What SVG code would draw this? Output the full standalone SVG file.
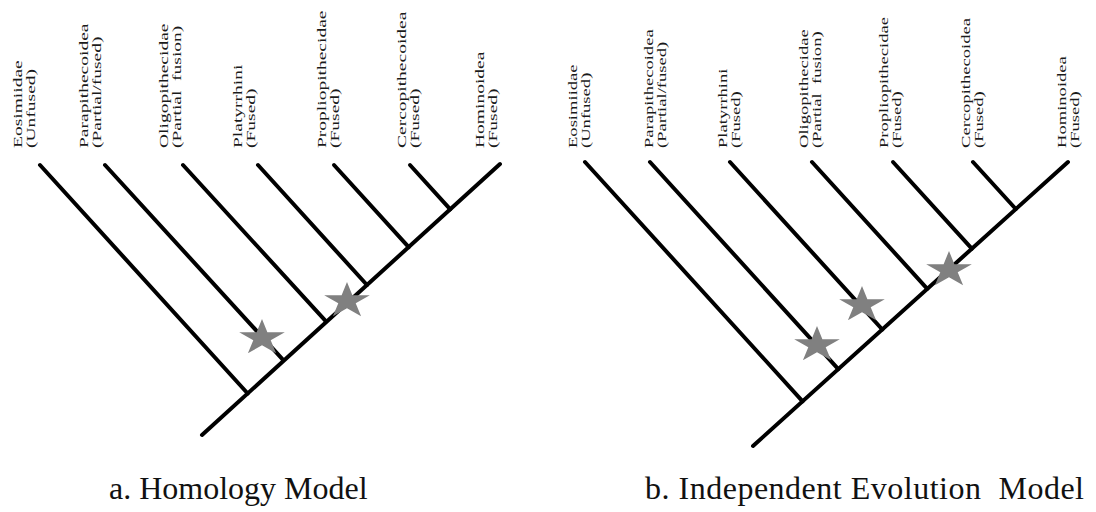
<svg xmlns="http://www.w3.org/2000/svg" xmlns:xlink="http://www.w3.org/1999/xlink" width="1096" height="512" viewBox="0 0 1096 512">
<style>
.br{stroke:#000;stroke-width:4;stroke-linecap:round;fill:none}
.lb{font-family:"Liberation Serif","Times New Roman",serif;font-size:13px;fill:#1a1a1a}
.cap{font-family:"Liberation Serif","Times New Roman",serif;font-size:32px;fill:#111}
.star{fill:#808080}
</style>
<defs>
<path id="star" d="M0,-19 L5.39,-5.87 L22.8,-5.87 L8.71,2.24 L14.1,15.37 L0,7.26 L-14.1,15.37 L-8.71,2.24 L-22.8,-5.87 L-5.39,-5.87 Z"/>
</defs>
<rect width="1096" height="512" fill="#fff"/>

<g id="connectors-a">
<line class="br" x1="202" y1="435" x2="500" y2="164"/>
<line class="br" x1="40" y1="165" x2="247.7" y2="393.5"/>
<line class="br" x1="105" y1="165" x2="283.3" y2="360.1"/>
<line class="br" x1="183" y1="165" x2="326" y2="321.4"/>
<line class="br" x1="258" y1="165" x2="367" y2="285"/>
<line class="br" x1="334" y1="165" x2="408.7" y2="247.2"/>
<line class="br" x1="410" y1="165" x2="450.3" y2="209.3"/>
</g>
<g id="connectors-b">
<line class="br" x1="753" y1="446" x2="1068" y2="162"/>
<line class="br" x1="585" y1="162" x2="802.6" y2="401.3"/>
<line class="br" x1="650" y1="162" x2="838.3" y2="369.1"/>
<line class="br" x1="730" y1="162" x2="882.3" y2="329.5"/>
<line class="br" x1="812" y1="162" x2="927.3" y2="288.8"/>
<line class="br" x1="893" y1="162" x2="971.8" y2="248.7"/>
<line class="br" x1="973" y1="162" x2="1015.8" y2="209"/>
</g>

<g id="stars">
<use xlink:href="#star" class="star" x="262" y="338"/>
<use xlink:href="#star" class="star" x="347" y="301"/>
<use xlink:href="#star" class="star" x="817" y="345"/>
<use xlink:href="#star" class="star" x="862" y="305"/>
<use xlink:href="#star" class="star" x="949" y="270"/>
</g>

<g id="labels-a" class="lb">
<g id="a-eosimiidae"><text transform="translate(22,148) rotate(-90) scale(1.5,1)">Eosimiidae</text><text transform="translate(35,148) rotate(-90) scale(1.5,1)">(Unfused)</text></g>
<g id="a-parapithecoidea"><text transform="translate(88,148) rotate(-90) scale(1.5,1)">Parapithecoidea</text><text transform="translate(101,148) rotate(-90) scale(1.5,1)">(Partial/fused)</text></g>
<g id="a-oligopithecidae"><text transform="translate(168,148) rotate(-90) scale(1.5,1)">Oligopithecidae</text><text transform="translate(181,148) rotate(-90) scale(1.5,1)" xml:space="preserve">(Partial  fusion)</text></g>
<g id="a-platyrrhini"><text transform="translate(242,148) rotate(-90) scale(1.5,1)">Platyrrhini</text><text transform="translate(255,148) rotate(-90) scale(1.5,1)">(Fused)</text></g>
<g id="a-propliopithecidae"><text transform="translate(326,148) rotate(-90) scale(1.5,1)">Propliopithecidae</text><text transform="translate(339,148) rotate(-90) scale(1.5,1)">(Fused)</text></g>
<g id="a-cercopithecoidea"><text transform="translate(406,148) rotate(-90) scale(1.5,1)">Cercopithecoidea</text><text transform="translate(419,148) rotate(-90) scale(1.5,1)">(Fused)</text></g>
<g id="a-hominoidea"><text transform="translate(484,148) rotate(-90) scale(1.5,1)">Hominoidea</text><text transform="translate(497,148) rotate(-90) scale(1.5,1)">(Fused)</text></g>
</g>

<g id="labels-b" class="lb">
<g id="b-eosimiidae"><text transform="translate(577,148) rotate(-90) scale(1.43,1)">Eosimiidae</text><text transform="translate(590,148) rotate(-90) scale(1.43,1)">(Unfused)</text></g>
<g id="b-parapithecoidea"><text transform="translate(653,148) rotate(-90) scale(1.43,1)">Parapithecoidea</text><text transform="translate(666,148) rotate(-90) scale(1.43,1)">(Partial/fused)</text></g>
<g id="b-platyrrhini"><text transform="translate(727,148) rotate(-90) scale(1.43,1)">Platyrrhini</text><text transform="translate(740,148) rotate(-90) scale(1.43,1)">(Fused)</text></g>
<g id="b-oligopithecidae"><text transform="translate(808,148) rotate(-90) scale(1.43,1)">Oligopithecidae</text><text transform="translate(821,148) rotate(-90) scale(1.43,1)" xml:space="preserve">(Partial  fusion)</text></g>
<g id="b-propliopithecidae"><text transform="translate(888,148) rotate(-90) scale(1.43,1)">Propliopithecidae</text><text transform="translate(901,148) rotate(-90) scale(1.43,1)">(Fused)</text></g>
<g id="b-cercopithecoidea"><text transform="translate(970,148) rotate(-90) scale(1.43,1)">Cercopithecoidea</text><text transform="translate(983,148) rotate(-90) scale(1.43,1)">(Fused)</text></g>
<g id="b-hominoidea"><text transform="translate(1066,148) rotate(-90) scale(1.43,1)">Hominoidea</text><text transform="translate(1079,148) rotate(-90) scale(1.43,1)">(Fused)</text></g>
</g>

<g id="captions" class="cap">
<text x="109" y="499">a. Homology Model</text>
<text x="645" y="499" xml:space="preserve" textLength="439" lengthAdjust="spacing">b. Independent Evolution  Model</text>
</g>
</svg>
